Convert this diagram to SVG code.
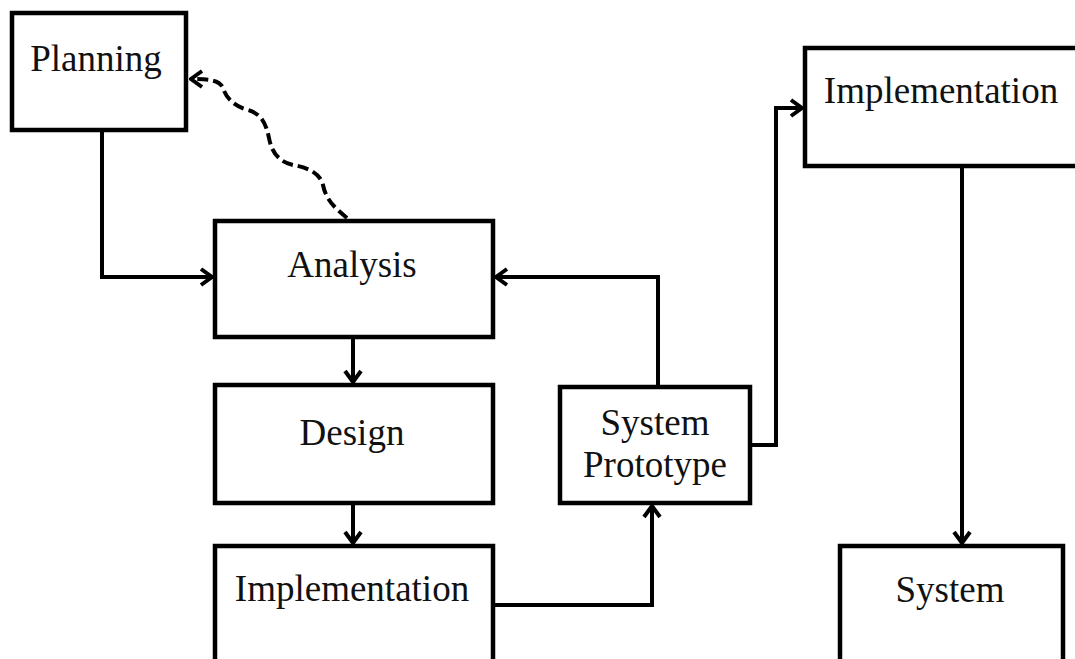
<svg xmlns="http://www.w3.org/2000/svg" width="1075" height="659" viewBox="0 0 1075 659">
  <style>
    .box { fill: #ffffff; stroke: #000000; stroke-width: 4.5; }
    .label { font-family: "Liberation Serif", "Times New Roman", serif; font-size: 37px; fill: #111111; text-anchor: middle; }
    .link { fill: none; stroke: #000000; stroke-width: 4; stroke-linejoin: miter; }
    .dash { fill: none; stroke: #000000; stroke-width: 4; stroke-dasharray: 11 5; stroke-linecap: butt; }
  </style>
  <defs>
    <marker id="chevron" markerUnits="userSpaceOnUse" viewBox="-14 -12 16 24" markerWidth="16" markerHeight="24" refX="0" refY="0" orient="auto">
      <path d="M-11,-8 L0,0 L-11,8" fill="none" stroke="#000000" stroke-width="4" stroke-linejoin="miter"/>
    </marker>
  </defs>
  <rect width="1075" height="659" fill="#ffffff"/>

  <g id="connectors">
    <!-- Planning down and across into Analysis -->
    <path class="link" d="M102,130 L102,277 L212,277" marker-end="url(#chevron)"/>
    <!-- Analysis down to Design -->
    <path class="link" d="M353,337 L353,382" marker-end="url(#chevron)"/>
    <!-- Design down to Implementation -->
    <path class="link" d="M353,503 L353,543" marker-end="url(#chevron)"/>
    <!-- Implementation across and up to System Prototype -->
    <path class="link" d="M493,605 L652,605 L652,506" marker-end="url(#chevron)"/>
    <!-- System Prototype back to Analysis -->
    <path class="link" d="M658,387 L658,277 L496,277" marker-end="url(#chevron)"/>
    <!-- System Prototype to final Implementation -->
    <path class="link" d="M750,445 L776,445 L776,108 L802,108" marker-end="url(#chevron)"/>
    <!-- Implementation down to System -->
    <path class="link" d="M962,166 L962,543" marker-end="url(#chevron)"/>
    <!-- Feedback from Analysis to Planning -->
    <path class="dash" d="M347,218 C335,208 326,200 323,185 C320,172 305,167 293,165 C280,162 272,154 269,138 C266,124 262,114 248,110 C234,106 226,98 223,88 C220,81 212,79 191,79" marker-end="url(#chevron)"/>
  </g>

  <g id="planning">
    <rect class="box" x="12" y="13" width="174" height="117"/>
    <text class="label" x="96" y="71">Planning</text>
  </g>

  <g id="analysis">
    <rect class="box" x="215" y="221" width="278" height="116"/>
    <text class="label" x="352" y="277">Analysis</text>
  </g>

  <g id="design">
    <rect class="box" x="215" y="385" width="278" height="118"/>
    <text class="label" x="352" y="445">Design</text>
  </g>

  <g id="implementation-prototype">
    <rect class="box" x="215" y="546" width="278" height="130"/>
    <text class="label" x="352" y="601">Implementation</text>
  </g>

  <g id="system-prototype">
    <rect class="box" x="560" y="387" width="190" height="116"/>
    <text class="label" x="655" y="435">System</text>
    <text class="label" x="655" y="477">Prototype</text>
  </g>

  <g id="implementation-final">
    <rect class="box" x="805" y="48" width="290" height="118"/>
    <text class="label" x="941" y="103">Implementation</text>
  </g>

  <g id="system">
    <rect class="box" x="840" y="546" width="223" height="130"/>
    <text class="label" x="950" y="602">System</text>
  </g>
</svg>
